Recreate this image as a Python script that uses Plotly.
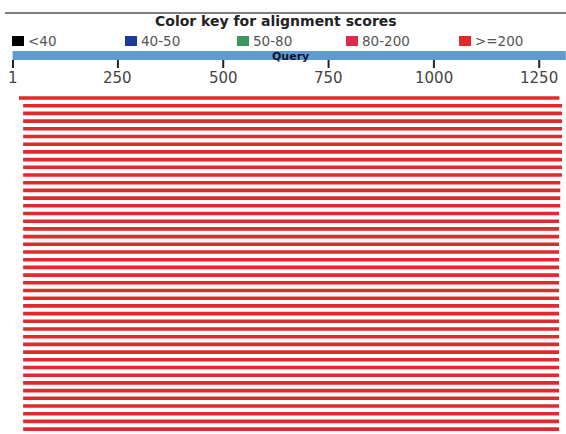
import plotly.graph_objects as go

# ---- data ----
legend_labels = ["<40", "40-50", "50-80", "80-200", ">=200"]
legend_colors = ["#000000", "#1a3a9c", "#3d9560", "#dc2c4c", "#e02a2a"]
tick_values = [1, 250, 500, 750, 1000, 1250]
tick_labels = ["1", "250", "500", "750", "1000", "1250"]
query_length = 1313

n_hits = 44
hit_starts = [15] + [25] * (n_hits - 1)
hit_ends = [1298] + [1304] * 10 + [1300] * 4 + [1297] * (n_hits - 15)
hit_colors = ["#e02a2e"] * n_hits

W, H = 566, 434
px_per_unit_x = 0.4213
x0_px = 12.6
x_range = [-x0_px / px_per_unit_x, (W - x0_px) / px_per_unit_x]

row_px = 7.7
first_row_px = 98
y_top = -first_row_px / row_px
y_range = [y_top + H / row_px, y_top]

fig = go.Figure()

for i in range(n_hits):
    fig.add_trace(go.Scatter(
        x=[hit_starts[i], hit_ends[i]], y=[i, i], mode="lines",
        line=dict(color=hit_colors[i], width=3.6), showlegend=False, hoverinfo="skip"))

def py(p):  # pixel from top -> paper
    return 1 - p / H

def px(p):
    return p / W

shapes = []
annotations = []
FONT = "DejaVu Sans"

# top rule
shapes.append(dict(type="line", xref="paper", yref="paper", x0=px(5), x1=1, y0=py(13), y1=py(13),
                   line=dict(color="#555555", width=1.5)))
# title
annotations.append(dict(text="<b>Color key for alignment scores</b>", xref="paper", yref="paper",
                        x=px(276), y=py(21), showarrow=False, font=dict(family=FONT, size=14, color="#222222"),
                        xanchor="center", yanchor="middle"))
# legend
legend_x = [12, 125, 237, 346, 459]
for lx, lab, col in zip(legend_x, legend_labels, legend_colors):
    shapes.append(dict(type="rect", xref="paper", yref="paper", x0=px(lx), x1=px(lx + 12),
                       y0=py(46), y1=py(36), fillcolor=col, line=dict(width=0)))
    annotations.append(dict(text=lab, xref="paper", yref="paper", x=px(lx + 14), y=py(41),
                            showarrow=False, xanchor="left", yanchor="middle",
                            font=dict(family=FONT, size=13.5, color="#555555")))

# query bar
shapes.append(dict(type="rect", xref="x", yref="paper", x0=0, x1=query_length,
                   y0=py(60), y1=py(51), fillcolor="#5e9bd0", line=dict(width=0)))
annotations.append(dict(text="<b>Query</b>", xref="paper", yref="paper", x=px(290), y=py(56),
                        showarrow=False, xanchor="center", yanchor="middle",
                        font=dict(family=FONT, size=11, color="#111133")))
# ticks
for tv, tl in zip(tick_values, tick_labels):
    shapes.append(dict(type="line", xref="x", yref="paper", x0=tv, x1=tv, y0=py(60), y1=py(68),
                       line=dict(color="#222222", width=2)))
    annotations.append(dict(text=tl, xref="x", yref="paper", x=tv, y=py(78), showarrow=False,
                            xanchor="center", yanchor="middle",
                            font=dict(family=FONT, size=15, color="#444444")))

fig.update_layout(
    width=W, height=H, margin=dict(l=0, r=0, t=0, b=0),
    paper_bgcolor="white", plot_bgcolor="white",
    xaxis=dict(range=x_range, visible=False, fixedrange=True),
    yaxis=dict(range=y_range, visible=False, fixedrange=True),
    shapes=shapes, annotations=annotations, showlegend=False,
)

fig.write_html("out.html")
